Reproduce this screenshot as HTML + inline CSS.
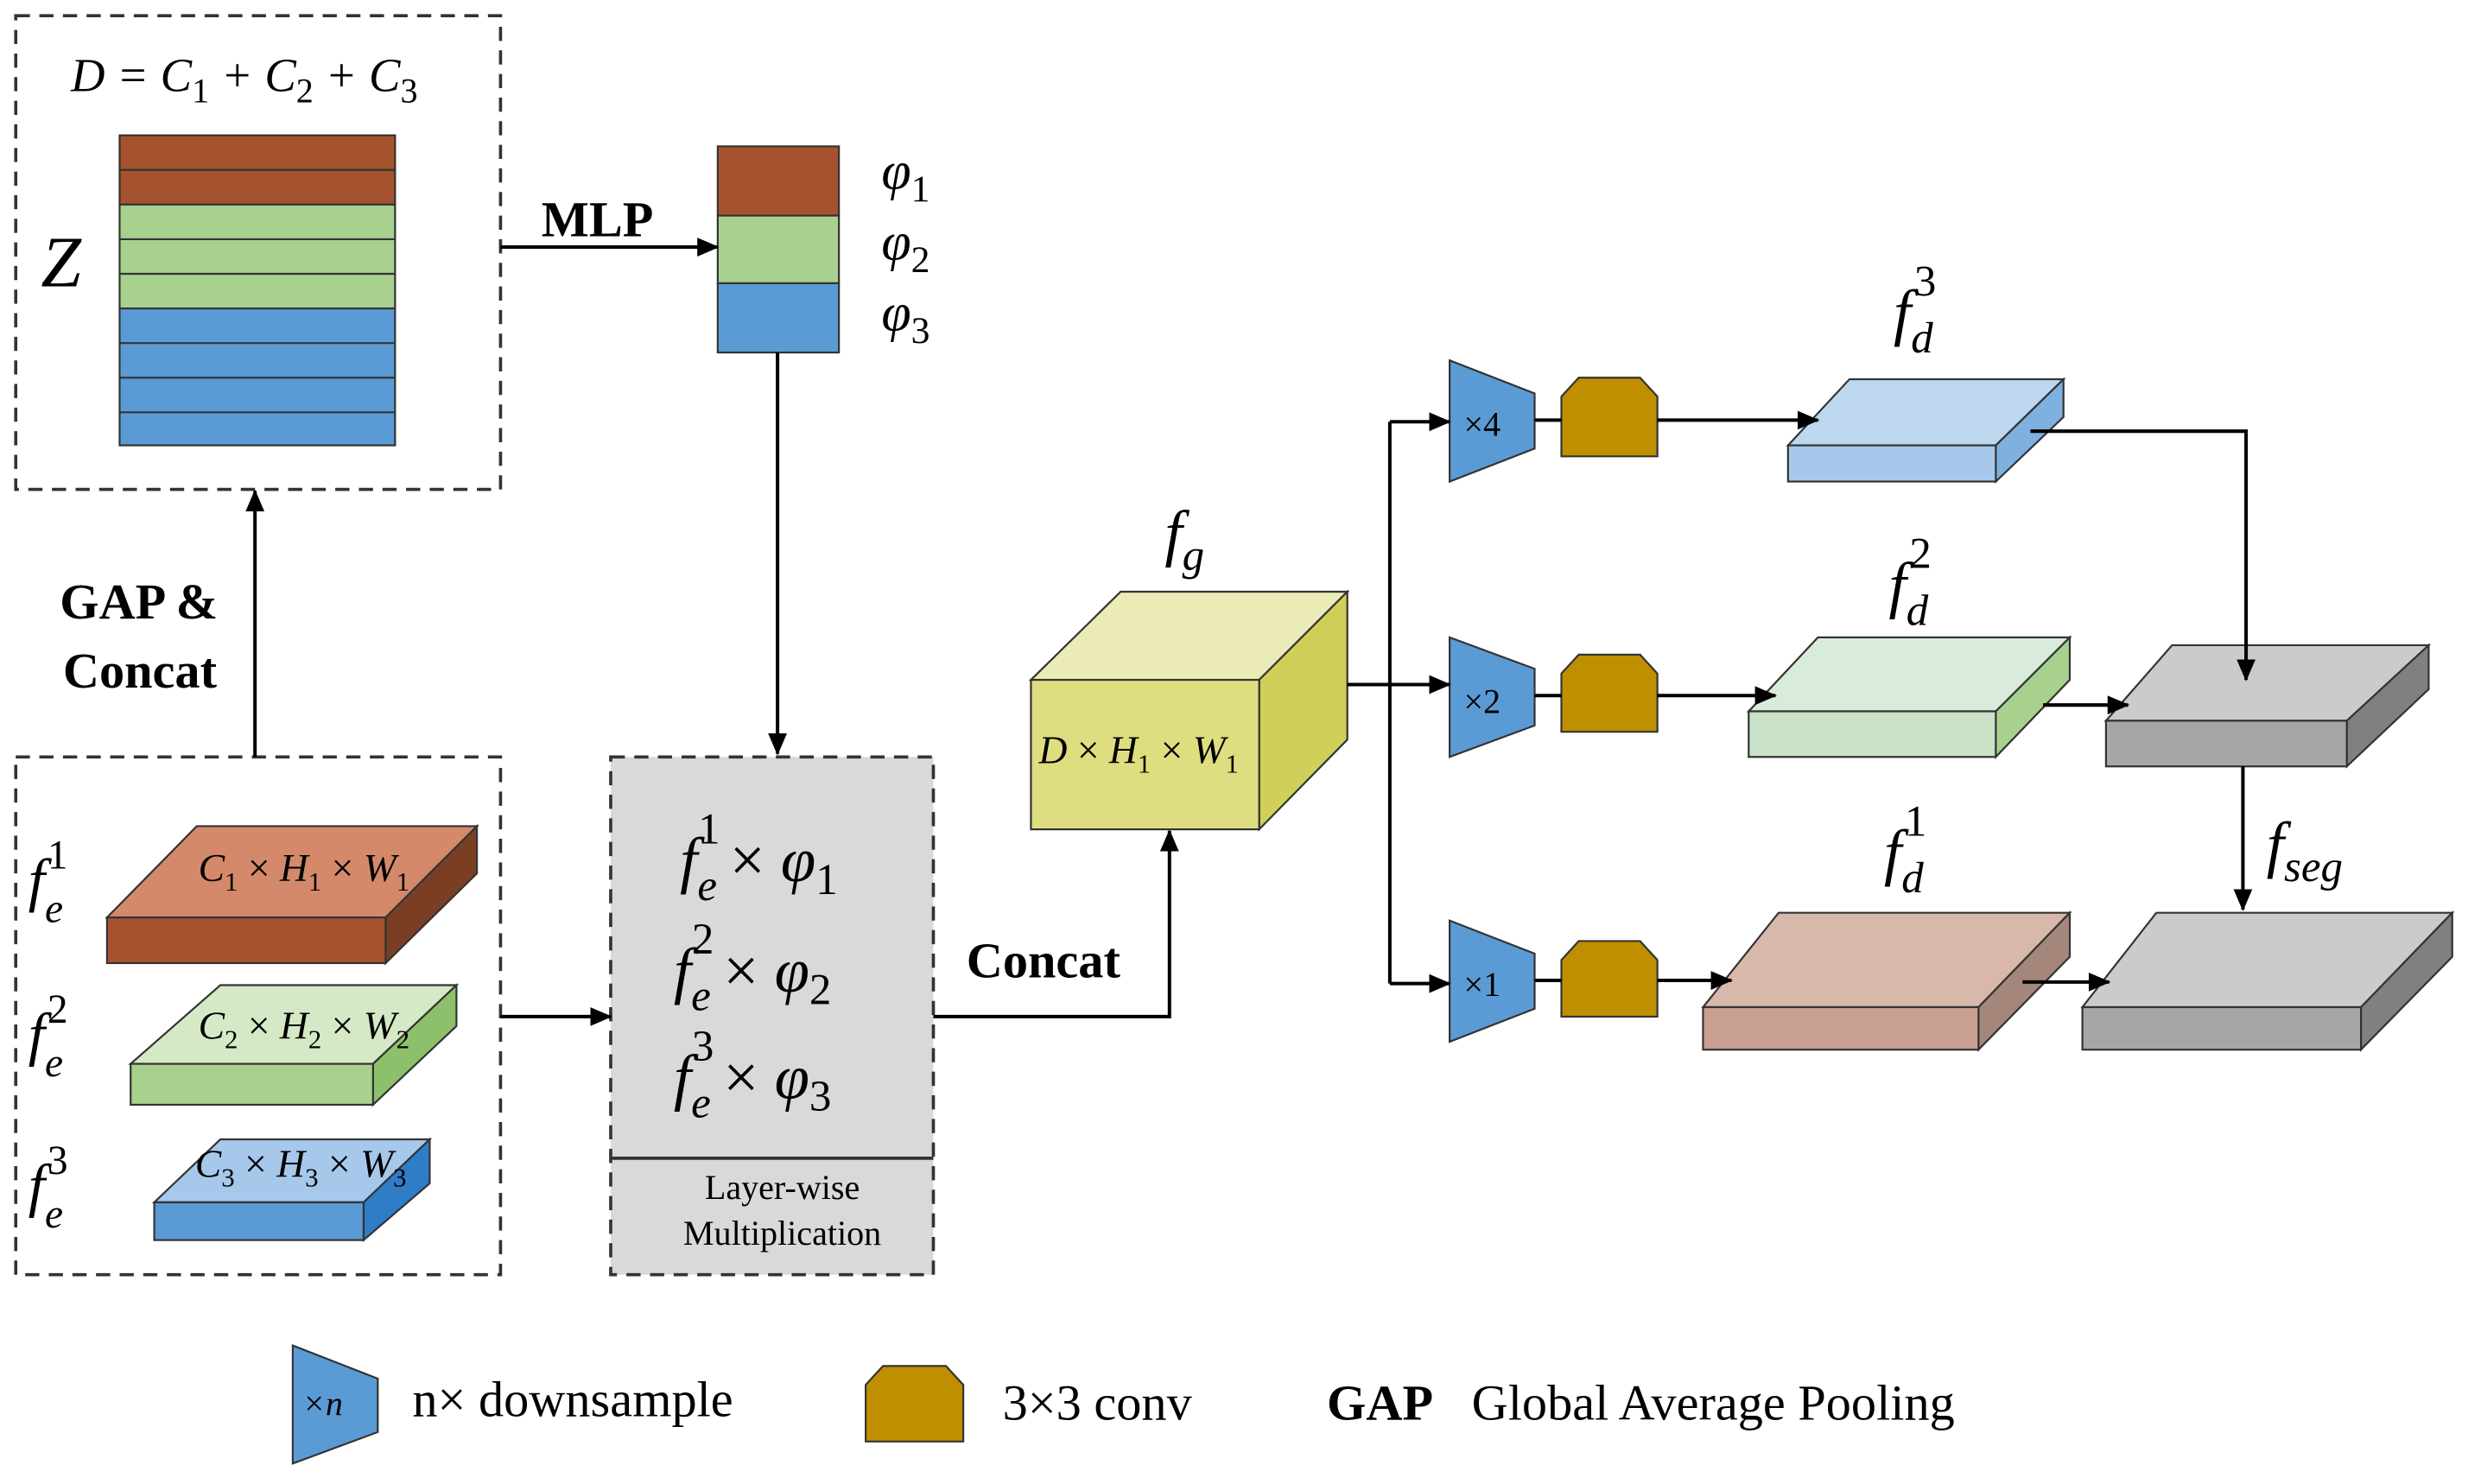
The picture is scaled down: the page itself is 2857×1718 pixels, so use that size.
<!DOCTYPE html>
<html><head><meta charset="utf-8"><style>
html,body{margin:0;padding:0;background:#fff;}
svg{display:block;}
svg text{font-family:"Liberation Serif","DejaVu Serif",serif;}
.it{font-style:italic;}
.b{font-weight:bold;}
</style></head><body>
<svg width="2857" height="1718" viewBox="0 0 1568 943" preserveAspectRatio="none" xmlns="http://www.w3.org/2000/svg" font-family="Liberation Serif, DejaVu Serif, serif">
<defs>
<marker id="ar" markerWidth="14" markerHeight="12" refX="13" refY="6" orient="auto" markerUnits="userSpaceOnUse">
<path d="M0,0 L14,6 L0,12 z" fill="#000"/></marker>
</defs>
<g stroke="#333" stroke-width="1.2">
<rect x="10" y="10" width="308" height="301" fill="none" stroke="#333" stroke-width="2" stroke-dasharray="9,6"/>
<rect x="76" y="86" width="175" height="44" fill="#a5532e"/>
<line x1="76" y1="108" x2="251" y2="108"/>
<rect x="76" y="130" width="175" height="66" fill="#a9d18e"/>
<line x1="76" y1="152" x2="251" y2="152"/><line x1="76" y1="174" x2="251" y2="174"/>
<rect x="76" y="196" width="175" height="87" fill="#5b9bd5"/>
<line x1="76" y1="218" x2="251" y2="218"/><line x1="76" y1="240" x2="251" y2="240"/><line x1="76" y1="262" x2="251" y2="262"/>
<rect x="456" y="93" width="77" height="44" fill="#a5532e"/>
<rect x="456" y="137" width="77" height="43" fill="#a9d18e"/>
<rect x="456" y="180" width="77" height="44" fill="#5b9bd5"/>
<rect x="10" y="481" width="308" height="329" fill="none" stroke="#333" stroke-width="2" stroke-dasharray="9,6"/>
<polygon points="68,583 125,525 303,525 245,583" fill="#d4896a"/>
<polygon points="245,583 303,525 303,555 245,612" fill="#7a3f22"/>
<rect x="68" y="583" width="177" height="29" fill="#a5532e"/>
<polygon points="83,676 140,626 290,626 237,676" fill="#d6e9c6"/>
<polygon points="237,676 290,626 290,652 237,702" fill="#8dc06a"/>
<rect x="83" y="676" width="154" height="26" fill="#a9d18e"/>
<polygon points="98,764 140,724 273,724 231,764" fill="#a6c8ea"/>
<polygon points="231,764 273,724 273,752 231,788" fill="#2f7cc7"/>
<rect x="98" y="764" width="133" height="24" fill="#5b9bd5"/>
<rect x="388" y="481" width="205" height="329" fill="#d9d9d9" stroke="#333" stroke-width="2" stroke-dasharray="9,6"/>
<line x1="388" y1="736" x2="593" y2="736" stroke-width="2"/>
<polygon points="655,432 712,376 856,376 800,432" fill="#ebebb6"/>
<polygon points="800,432 856,376 856,470 800,527" fill="#d0cf5a"/>
<rect x="655" y="432" width="145" height="95" fill="#dede80"/>
<polygon points="921,229 975,250 975,285 921,306" fill="#5b9bd5"/>
<polygon points="921,405 975,425 975,461 921,481" fill="#5b9bd5"/>
<polygon points="921,585 975,606 975,641 921,662" fill="#5b9bd5"/>
<polygon points="186,855 240,876 240,910 186,930" fill="#5b9bd5"/>
<polygon points="992,252 1003,240 1042,240 1053,252 1053,290 992,290" fill="#bf8f00"/>
<polygon points="992,428 1003,416 1042,416 1053,428 1053,465 992,465" fill="#bf8f00"/>
<polygon points="992,610 1003,598 1042,598 1053,610 1053,646 992,646" fill="#bf8f00"/>
<polygon points="550,880 561,868 601,868 612,880 612,916 550,916" fill="#bf8f00"/>
<polygon points="1136,283 1175,241 1311,241 1268,283" fill="#bdd7ee"/>
<polygon points="1268,283 1311,241 1311,265 1268,306" fill="#7eb0e0"/>
<rect x="1136" y="283" width="132" height="23" fill="#a6c8ea"/>
<polygon points="1111,452 1155,405 1315,405 1268,452" fill="#d9ecdb"/>
<polygon points="1268,452 1315,405 1315,432 1268,481" fill="#a9d18e"/>
<rect x="1111" y="452" width="157" height="29" fill="#cae2c8"/>
<polygon points="1338,458 1380,410 1543,410 1491,458" fill="#cbcbcb"/>
<polygon points="1491,458 1543,410 1543,438 1491,487" fill="#808080"/>
<rect x="1338" y="458" width="153" height="29" fill="#a6a6a6"/>
<polygon points="1082,640 1130,580 1315,580 1257,640" fill="#d7b8aa"/>
<polygon points="1257,640 1315,580 1315,608 1257,667" fill="#a5867b"/>
<rect x="1082" y="640" width="175" height="27" fill="#c9a092"/>
<polygon points="1323,640 1370,580 1558,580 1500,640" fill="#cbcbcb"/>
<polygon points="1500,640 1558,580 1558,608 1500,667" fill="#808080"/>
<rect x="1323" y="640" width="177" height="27" fill="#a6a6a6"/>
</g>
<g stroke="#000" stroke-width="2.2" fill="none">
<line x1="318" y1="157" x2="456" y2="157" marker-end="url(#ar)"/>
<line x1="494" y1="224" x2="494" y2="479" marker-end="url(#ar)"/>
<line x1="162" y1="481" x2="162" y2="312" marker-end="url(#ar)"/>
<line x1="318" y1="646" x2="388" y2="646" marker-end="url(#ar)"/>
<polyline points="593,646 743,646 743,528" marker-end="url(#ar)"/>
<line x1="856" y1="435" x2="883" y2="435"/>
<line x1="883" y1="268" x2="883" y2="625"/>
<line x1="883" y1="268" x2="921" y2="268" marker-end="url(#ar)"/>
<line x1="883" y1="435" x2="921" y2="435" marker-end="url(#ar)"/>
<line x1="883" y1="625" x2="921" y2="625" marker-end="url(#ar)"/>
<line x1="975" y1="267" x2="992" y2="267"/>
<line x1="975" y1="442" x2="992" y2="442"/>
<line x1="975" y1="623" x2="992" y2="623"/>
<line x1="1053" y1="267" x2="1155" y2="267" marker-end="url(#ar)"/>
<line x1="1053" y1="442" x2="1128" y2="442" marker-end="url(#ar)"/>
<line x1="1053" y1="623" x2="1100" y2="623" marker-end="url(#ar)"/>
<polyline points="1290,274 1427,274 1427,432" marker-end="url(#ar)"/>
<line x1="1298" y1="448" x2="1352" y2="448" marker-end="url(#ar)"/>
<line x1="1425" y1="487" x2="1425" y2="578" marker-end="url(#ar)"/>
<line x1="1285" y1="624" x2="1340" y2="624" marker-end="url(#ar)"/>
</g>
<g fill="#000">
<text x="45" y="58" font-size="30" class="it">D = C<tspan font-size="22" dy="7" font-style="normal">1</tspan><tspan dy="-7"> + C</tspan><tspan font-size="22" dy="7" font-style="normal">2</tspan><tspan dy="-7"> + C</tspan><tspan font-size="22" dy="7" font-style="normal">3</tspan></text>
<text x="26" y="182" font-size="46" class="it">Z</text>
<text x="344" y="150" font-size="32" class="b">MLP</text>
<text x="560" y="120" font-size="34" class="it">φ<tspan font-size="24" dy="8" font-style="normal">1</tspan></text>
<text x="560" y="165" font-size="34" class="it">φ<tspan font-size="24" dy="8" font-style="normal">2</tspan></text>
<text x="560" y="210" font-size="34" class="it">φ<tspan font-size="24" dy="8" font-style="normal">3</tspan></text>
<text x="38" y="393" font-size="32" class="b">GAP &amp;</text>
<text x="40" y="437" font-size="32" class="b">Concat</text>
<g font-size="38" class="it">
<text x="18" y="572">f<tspan font-size="26" dy="14">e</tspan><tspan font-size="26" dx="-10" dy="-34" font-style="normal">1</tspan></text>
<text x="18" y="670">f<tspan font-size="26" dy="14">e</tspan><tspan font-size="26" dx="-10" dy="-34" font-style="normal">2</tspan></text>
<text x="18" y="766">f<tspan font-size="26" dy="14">e</tspan><tspan font-size="26" dx="-10" dy="-34" font-style="normal">3</tspan></text>
</g>
<g font-size="25" class="it">
<text x="126" y="560">C<tspan font-size="17" dy="6" font-style="normal">1</tspan><tspan dy="-6" font-style="normal"> × </tspan>H<tspan font-size="17" dy="6" font-style="normal">1</tspan><tspan dy="-6" font-style="normal"> × </tspan>W<tspan font-size="17" dy="6" font-style="normal">1</tspan></text>
<text x="126" y="660">C<tspan font-size="17" dy="6" font-style="normal">2</tspan><tspan dy="-6" font-style="normal"> × </tspan>H<tspan font-size="17" dy="6" font-style="normal">2</tspan><tspan dy="-6" font-style="normal"> × </tspan>W<tspan font-size="17" dy="6" font-style="normal">2</tspan></text>
<text x="124" y="748">C<tspan font-size="17" dy="6" font-style="normal">3</tspan><tspan dy="-6" font-style="normal"> × </tspan>H<tspan font-size="17" dy="6" font-style="normal">3</tspan><tspan dy="-6" font-style="normal"> × </tspan>W<tspan font-size="17" dy="6" font-style="normal">3</tspan></text>
</g>
<g font-size="40" class="it">
<text x="432" y="560">f<tspan font-size="28" dy="12">e</tspan><tspan font-size="28" dx="-12" dy="-36" font-style="normal">1</tspan><tspan dx="6" dy="24" font-style="normal">× </tspan>φ<tspan font-size="28" dy="8" font-style="normal">1</tspan></text>
<text x="428" y="630">f<tspan font-size="28" dy="12">e</tspan><tspan font-size="28" dx="-12" dy="-36" font-style="normal">2</tspan><tspan dx="6" dy="24" font-style="normal">× </tspan>φ<tspan font-size="28" dy="8" font-style="normal">2</tspan></text>
<text x="428" y="698">f<tspan font-size="28" dy="12">e</tspan><tspan font-size="28" dx="-12" dy="-36" font-style="normal">3</tspan><tspan dx="6" dy="24" font-style="normal">× </tspan>φ<tspan font-size="28" dy="8" font-style="normal">3</tspan></text>
</g>
<text x="497" y="762" font-size="22" text-anchor="middle">Layer-wise</text>
<text x="497" y="791" font-size="22" text-anchor="middle">Multiplication</text>
<text x="614" y="621" font-size="32" class="b">Concat</text>
<text x="660" y="485" font-size="25" class="it">D<tspan font-style="normal"> × </tspan>H<tspan font-size="17" dy="6" font-style="normal">1</tspan><tspan dy="-6" font-style="normal"> × </tspan>W<tspan font-size="17" dy="6" font-style="normal">1</tspan></text>
<text x="740" y="352" font-size="40" class="it">f<tspan font-size="28" dy="10">g</tspan></text>
<g font-size="40" class="it">
<text x="1203" y="212">f<tspan font-size="28" dy="12">d</tspan><tspan font-size="28" dx="-12" dy="-36" font-style="normal">3</tspan></text>
<text x="1200" y="385">f<tspan font-size="28" dy="12">d</tspan><tspan font-size="28" dx="-12" dy="-36" font-style="normal">2</tspan></text>
<text x="1197" y="555">f<tspan font-size="28" dy="12">d</tspan><tspan font-size="28" dx="-12" dy="-36" font-style="normal">1</tspan></text>
<text x="1440" y="550">f<tspan font-size="28" dy="10">seg</tspan></text>
</g>
<text x="930" y="277" font-size="22">×4</text>
<text x="930" y="453" font-size="22">×2</text>
<text x="930" y="633" font-size="22">×1</text>
<text x="192" y="899" font-size="22" class="it">×n</text>
<text x="262" y="900" font-size="32">n× downsample</text>
<text x="637" y="902" font-size="32">3×3 conv</text>
<text x="843" y="902" font-size="32" class="b">GAP</text>
<text x="935" y="902" font-size="32">Global Average Pooling</text>
</g>
</svg>
</body></html>
